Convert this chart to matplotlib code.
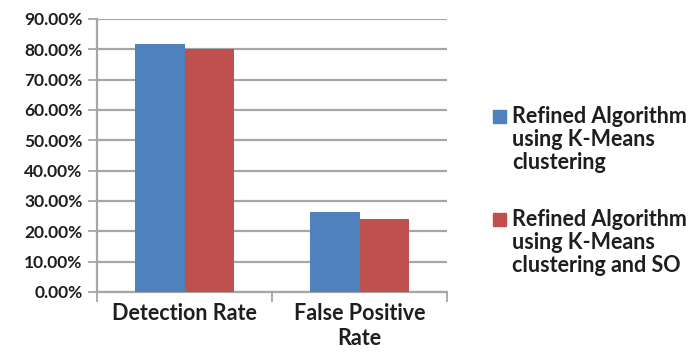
import matplotlib.pyplot as plt
import matplotlib.patches as patches
import numpy as np
from matplotlib.ticker import FuncFormatter

categories = ['Detection Rate', 'False Positive\nRate']
kmeans = [0.817, 0.263]
kmeans_so = [0.800, 0.240]
series_labels = ['Refined Algorithm\nusing K-Means\nclustering',
                 'Refined Algorithm\nusing K-Means\nclustering and SO']

blue = '#4F81BD'
red = '#C0504D'
grid_col = '#A6A6A6'
text_col = '#1E1E1E'

plt.rcParams['font.family'] = ['Lato', 'DejaVu Sans']
plt.rcParams['font.weight'] = 'bold'

W, H = 693, 353
fig = plt.figure(figsize=(W / 100, H / 100), dpi=100)
ax = fig.add_axes([97 / W, 1 - 292 / H, 350 / W, 273 / H])

x = np.arange(len(categories))
w = 0.2857
ax.bar(x - w / 2, kmeans, w, color=blue, zorder=3)
ax.bar(x + w / 2, kmeans_so, w, color=red, zorder=3)

ax.set_xlim(-0.5, len(categories) - 0.5)
ax.set_ylim(0, 0.9)
ax.set_yticks(np.arange(0, 0.91, 0.1))
ax.yaxis.set_major_formatter(FuncFormatter(lambda v, p: f'{v * 100:.2f}%'))
ax.grid(axis='y', color=grid_col, linewidth=1.6, zorder=0)

# category labels sit between the boundary ticks
ax.set_xticks(x)
ax.set_xticklabels(categories, fontsize=15.5, color=text_col, linespacing=1.25)
ax.tick_params(axis='x', length=0, pad=8)
ax.set_xticks([-0.5, 0.5, 1.5], minor=True)
ax.tick_params(axis='x', which='minor', length=7, color=grid_col, width=1.3)
ax.tick_params(axis='y', length=6.5, color=grid_col, width=1.3, labelsize=12.5,
               labelcolor=text_col, pad=4)

for s in ['top', 'right']:
    ax.spines[s].set_visible(False)
for s in ['left', 'bottom']:
    ax.spines[s].set_color(grid_col)
    ax.spines[s].set_linewidth(1.6)

# legend: square key beside the first line of each label
for i, (col, lab) in enumerate(zip([blue, red], series_labels)):
    top = 110 + i * 103
    fig.add_artist(patches.Rectangle((493 / W, 1 - (top + 13) / H), 13 / W, 13 / H,
                                     transform=fig.transFigure, color=col))
    fig.text(512 / W, 1 - (top - 4) / H, lab, fontsize=15.5,
             color=text_col, va='top', ha='left', linespacing=1.13)

fig.savefig('out.png', dpi=100)
